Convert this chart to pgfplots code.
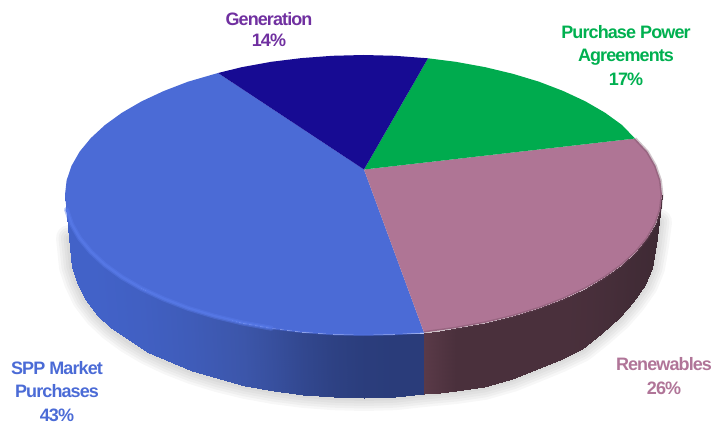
\documentclass[border=0pt]{standalone}
\usepackage{pgfplots}
\usepackage{fontspec}
\pgfplotsset{compat=1.18}
\setmainfont{Liberation Sans}[LetterSpace=-5]

\definecolor{sppblue}{RGB}{75,107,214}
\definecolor{genblue}{RGB}{23,11,147}
\definecolor{ppagreen}{RGB}{0,171,78}
\definecolor{renewpink}{RGB}{175,117,149}
\definecolor{labelpurple}{RGB}{112,48,160}
\definecolor{labelgreen}{RGB}{0,176,80}
\definecolor{labelpink}{RGB}{176,117,152}
\tikzset{lab/.style={align=center, inner sep=0pt, font=\fontsize{18bp}{23.5bp}\selectfont\bfseries}}

% outlines of the top face, pixel coordinates
\pgfplotstableread{
x y
364 169.5
218 73
242.1 67.1
271.3 61.8
301.4 58.1
332.3 55.8
363.5 55
394.7 55.8
428 58.3
}\genslice
\pgfplotstableread{
x y
364 169.5
428 58.3
455.7 61.8
484.9 67.1
512.8 73.8
539.0 81.7
563.2 91.0
585.3 101.3
605.0 112.7
622.0 125
635 138.5
}\ppaslice
\pgfplotstableread{
x y
364 169.5
635 138.5
647.4 151.7
655.5 165.9
660.4 180.4
662 195
660.4 209.6
655.5 224.1
647.4 238.3
636.2 251.9
622.0 265
605.0 277.3
585.3 288.7
563.2 299.0
539.0 308.3
512.8 316.2
484.9 322.9
455.7 328.2
424 332.5
}\renewslice
\pgfplotstableread{
x y
364 169.5
424 332.5
394.7 334.2
363.5 335
332.3 334.2
301.4 331.9
271.3 328.2
242.1 322.9
214.2 316.2
188.0 308.3
163.8 299.0
141.7 288.7
122.0 277.3
105.0 265
90.8 251.9
79.6 238.3
71.5 224.1
66.6 209.6
65 195
66.6 180.4
71.5 165.9
79.6 151.7
90.8 138.1
105.0 125
122.0 112.7
141.7 101.3
163.8 91.0
188.0 81.7
218 73
}\sppslice

% lower edge of the side wall
\pgfplotstableread{
x y
659 222
656 245
652 268
645 285
633 302
619 318
602 333
582 349
560 359.5
537 369
512 379
484 387
456 391
424 394
394.5 397.2
364 398
333.5 397.2
303.3 394.9
273.8 391.1
245.2 385.9
218 379.2
192.4 371.3
168.6 362
147 351.7
127.8 340.3
111.1 328
97.2 314.9
85 299
77 282
72 267
69 238
}\shadowedge

% highlight and dark edge along the rim of the top face
\pgfplotstableread{
x y
66.6 209.6
71.5 224.1
79.6 238.3
90.8 251.9
105.0 265
122.0 277.3
141.7 288.7
163.8 299.0
188.0 308.3
214.2 316.2
242.1 322.9
271.3 328.2
}\rimblue
\pgfplotstableread{
x y
271.3 328.2
301.4 331.9
332.3 334.2
363.5 335
394.7 334.2
424 332.5
}\rimbluedark
\pgfplotstableread{
x y
424 332.5
455.7 328.2
484.9 322.9
512.8 316.2
539.0 308.3
563.2 299.0
585.3 288.7
605.0 277.3
622.0 265
636.2 251.9
647.4 238.3
655.5 224.1
660.4 209.6
662 195
660.4 180.4
655.5 165.9
647.4 151.7
635 138.5
}\rimpink

\begin{document}
\begin{tikzpicture}
\path[use as bounding box] (0,0) rectangle (723bp,425bp);
\begin{axis}[
    at={(0,0)}, anchor=south west,
    scale only axis,
    width=723bp, height=425bp,
    xmin=0, xmax=723, ymin=0, ymax=425,
    y dir=reverse,
    hide axis,
    clip=false,
    point meta min=0, point meta max=5,
    colormap={pieside}{rgb255=(66,98,200) rgb255=(60,86,170) rgb255=(42,60,122)
        rgb255=(90,58,72) rgb255=(74,48,60) rgb255=(62,42,52)},
]
% soft shadow under the wall
\addplot[black, opacity=0.03, line width=26bp, line cap=round, line join=round] table {\shadowedge};
\addplot[black, opacity=0.03, line width=21bp, line cap=round, line join=round] table {\shadowedge};
\addplot[black, opacity=0.03, line width=16bp, line cap=round, line join=round] table {\shadowedge};
\addplot[black, opacity=0.03, line width=11bp, line cap=round, line join=round] table {\shadowedge};
\addplot[black, opacity=0.03, line width=6bp, line cap=round, line join=round] table {\shadowedge};

% side wall, blue part
\addplot[surf, shader=interp, mesh/cols=2, mesh/rows=15, point meta=explicit] table[x=x, y=y, meta=c] {
x y c
65 195 0
69 238 0
66.6 209.6 0
72 267 0
71.5 224.1 0
77 282 0
79.6 238.3 0
85 299 0
90.8 251.9 0
97.2 314.9 0
105.0 265 0.05
111.1 328 0.05
141.7 288.7 0.2
147 351.7 0.2
188.0 308.3 0.5
192.4 371.3 0.5
242.1 322.9 1
245.2 385.9 1
271.3 328.2 1.25
273.8 391.1 1.25
301.4 331.9 1.55
303.3 394.9 1.55
332.3 334.2 1.8
333.5 397.2 1.8
363.5 335 1.95
364 398 1.95
394.7 334.2 2
394.5 397.2 2
424 332.5 2
424 394 2
};
% side wall, pink part
\addplot[surf, shader=interp, mesh/cols=2, mesh/rows=15, point meta=explicit] table[x=x, y=y, meta=c] {
x y c
424 332.5 3
424 394 3
440 330.5 3.5
440 392.5 3.5
455.7 328.2 4
456 391 4
484.9 322.9 4
484 387 4
512.8 316.2 4
512 379 4
539.0 308.3 4
537 369 4
563.2 299.0 4
560 359.5 4
585.3 288.7 4.1
582 349 4.1
605.0 277.3 4.3
602 333 4.3
622.0 265 4.5
619 318 4.5
636.2 251.9 4.7
633 302 4.7
647.4 238.3 4.8
645 285 4.8
655.5 224.1 4.9
652 268 4.9
660.4 209.6 5
656 245 5
662 195 5
659 222 5
};

% top face
\addplot[fill=sppblue, draw=none, forget plot] table {\sppslice};
\addplot[fill=renewpink, draw=none, forget plot] table {\renewslice};
\addplot[fill=ppagreen, draw=none, forget plot] table {\ppaslice};
\addplot[fill=genblue, draw=none, forget plot] table {\genslice};

% rim
\addplot[color={rgb,255:red,88;green,122;blue,232}, opacity=0.45, line width=5bp, line cap=round] table {\rimblue};
\addplot[color={rgb,255:red,88;green,122;blue,232}, opacity=0.7, line width=2.5bp, line cap=round] table {\rimblue};
\addplot[color={rgb,255:red,80;green,112;blue,222}, opacity=0.6, line width=2bp] table {\rimbluedark};
\addplot[color={rgb,255:red,100;green,66;blue,84}, opacity=0.3, line width=3bp] table {\rimpink};

% labels
\node[lab, labelpurple, anchor=north] at (axis cs:269,12) {Generation\\[-2bp]14\%};
\node[lab, labelgreen, anchor=north] at (axis cs:626,25) {Purchase Power\\Agreements\\17\%};
\node[lab, labelpink, anchor=north] at (axis cs:664,357) {Renewables\\[1bp]26\%};
\node[lab, sppblue, anchor=north] at (axis cs:57,361) {SPP Market\\Purchases\\43\%};
\end{axis}
\end{tikzpicture}
\end{document}
